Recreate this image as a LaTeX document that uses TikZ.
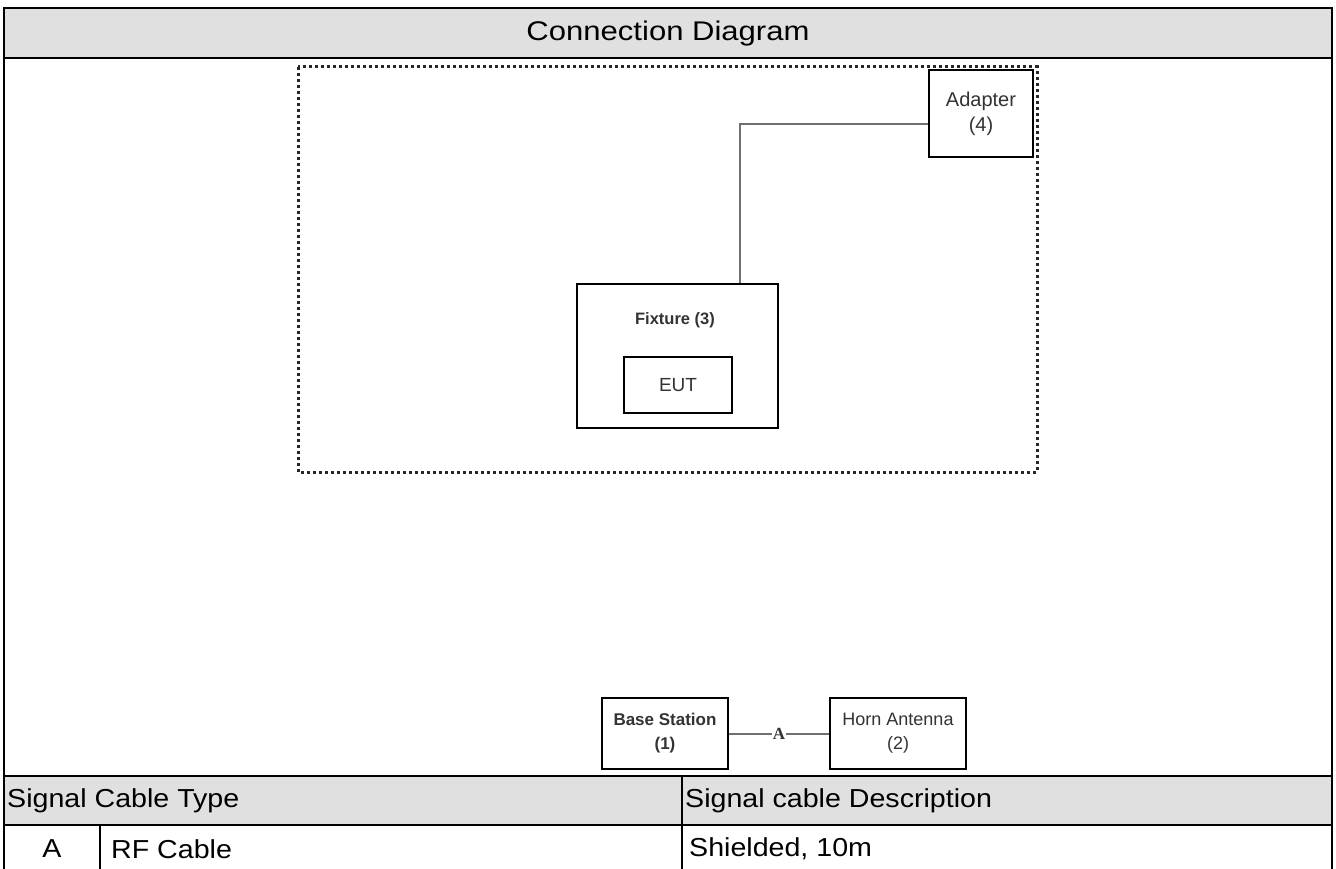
\documentclass[tikz,border=0pt]{standalone}
\usepackage{fontspec}
\setmainfont{Liberation Sans}
\newfontfamily\tabfont[FakeStretch=1.1]{Liberation Sans}
\newfontfamily\titlefont[FakeStretch=1.15]{Liberation Sans}
\newfontfamily\serifbold{Liberation Serif}
\definecolor{hdrgray}{HTML}{E0E0E0}
\definecolor{labgray}{HTML}{333333}
\definecolor{wiregray}{HTML}{707070}
\begin{document}
\begin{tikzpicture}[x=1pt,y=-1pt,
  tabline/.style={line width=2.5pt,black},
  tabtext/.style={font=\tabfont\fontsize{26}{30}\selectfont,inner sep=0pt},
  devbox/.style={draw=black,line width=2.4pt,fill=white,align=center,text=labgray,inner sep=0pt},
  wire/.style={draw=wiregray,line width=2pt},
  dotbox/.style={draw=black!85,line width=3pt,dash pattern=on 3pt off 3pt}
]
\useasboundingbox (0,0) rectangle (1336,869);
% table frame
\fill[hdrgray] (4,8) rectangle (1332,58);
\fill[hdrgray] (4,776) rectangle (1332,825);
\draw[tabline] (4,8) rectangle (1332,58);
\draw[tabline] (4,58) -- (4,869);
\draw[tabline] (1332,58) -- (1332,869);
\draw[tabline] (4,776) -- (1332,776);
\draw[tabline] (4,825) -- (1332,825);
\draw[tabline] (682,776) -- (682,869);
\draw[tabline] (100,825) -- (100,869);
\node[tabtext,font=\titlefont\fontsize{27}{30}\selectfont] (title) at (668,34) {Connection Diagram};
\node[tabtext,anchor=west] (h1) at (7,801) {Signal Cable Type};
\node[tabtext,anchor=west] (h2) at (685,801) {Signal cable Description};
\node[tabtext] (ra) at (52,849) {A};
\node[tabtext,anchor=west] (rtype) at (111,849) {RF Cable};
\node[tabtext,anchor=west] (rdesc) at (689,849) {Shielded, 10m};
% dotted enclosure
\draw[dotbox] (298,67) rectangle (1037,472);
% devices
\node[devbox,minimum width=104pt,minimum height=87pt,font=\fontsize{20}{25}\selectfont] (adapter) at (981,113.5) {Adapter\\(4)};
\node[devbox,minimum width=201pt,minimum height=144pt] (fixture) at (677.5,356) {};
\node[text=labgray,font=\bfseries\fontsize{16.5}{20}\selectfont,inner sep=0pt] (fixlabel) at (675,320) {Fixture (3)};
\node[devbox,minimum width=108pt,minimum height=56pt,font=\fontsize{19}{22}\selectfont] (eut) at (678,385) {EUT};
\node[devbox,minimum width=126pt,minimum height=71pt,font=\bfseries\fontsize{17}{24}\selectfont] (base) at (665,733.5) {Base Station\\(1)};
\node[devbox,minimum width=136pt,minimum height=71pt,font=\fontsize{18}{24}\selectfont] (horn) at (898,733.5) {Horn Antenna\\(2)};
% connectors
\coordinate (bend) at (740,124);
\draw[wire] (fixture.north -| bend) -- (bend) -- (bend -| adapter.west);
\draw[wire] (base.east) -- node[fill=white,inner sep=1pt,text=labgray,font=\serifbold\bfseries\fontsize{17}{20}\selectfont] (lblA) {A} (horn.west);
\end{tikzpicture}
\end{document}
